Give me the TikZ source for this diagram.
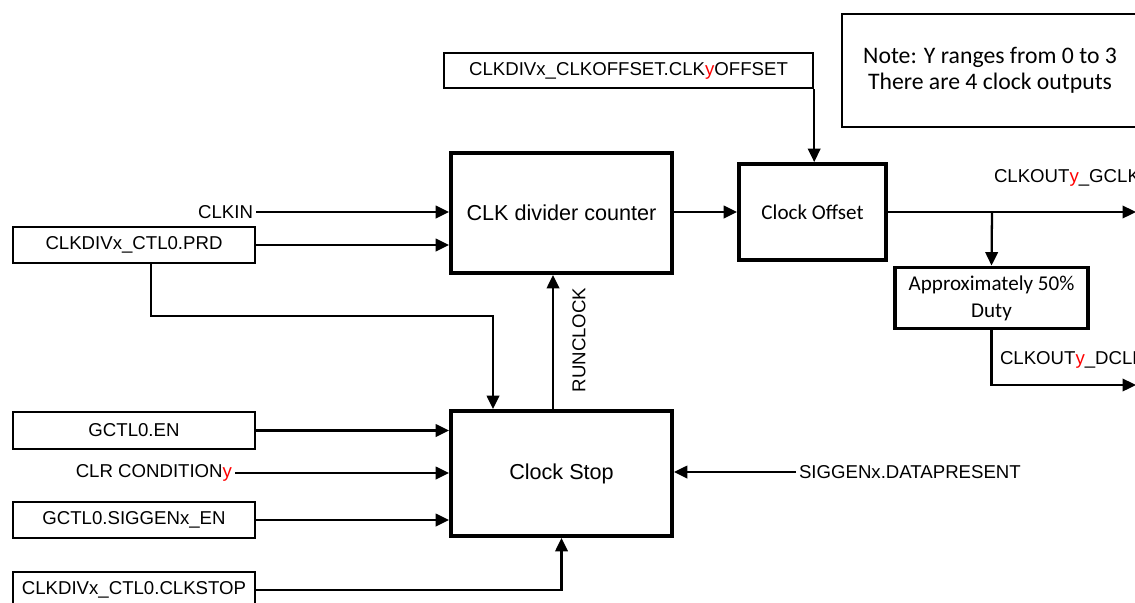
\documentclass[tikz,border=0pt]{standalone}
\usepackage{fontspec}
\setmainfont{Liberation Sans}
\newfontfamily\calfont{Carlito}
\usetikzlibrary{arrows.meta,positioning}

\tikzset{
  regbox/.style={draw,line width=1.4pt,minimum height=0.72cm,align=center,inner sep=1pt,font=\fontsize{10.6}{12}\selectfont},
  blkbox/.style={draw,line width=2.2pt,align=center,inner sep=2pt,font=\fontsize{12.3}{14}\selectfont},
  sig/.style={inner sep=1.5pt,font=\fontsize{10.6}{12}\selectfont},
  wire/.style={line width=1.3pt}
}
\newcommand{\ry}{\textcolor{red}{y}}

\begin{document}
\begin{tikzpicture}[x=0.02cm,y=-0.02cm,>={Triangle[length=0.27cm,width=0.25cm]}]
\useasboundingbox (0,0) rectangle (1135,602);
% main blocks
\node[blkbox,minimum width=4.42cm,minimum height=2.4cm] (div) at (561.5,213) {CLK divider counter};
\node[blkbox,minimum width=2.94cm,minimum height=1.92cm,font=\calfont\fontsize{12}{14}\selectfont] (off) at (812.5,212) {Clock Offset};
\node[blkbox,minimum width=3.86cm,minimum height=1.22cm,font=\calfont\fontsize{12}{15.5}\selectfont] (duty) at (991.5,298) {Approximately 50\%\\Duty};
\node[blkbox,minimum width=4.42cm,minimum height=2.5cm] (stp) at (561.5,473.5) {Clock Stop};
% registers and inputs
\node[regbox,minimum width=7.38cm,minimum height=0.7cm] (ofsreg) at (628.5,70.5) {CLKDIVx\_CLKOFFSET.CLK\ry OFFSET};
\node[regbox,minimum width=4.84cm] (prd) at (134,245) {CLKDIVx\_CTL0.PRD};
\node[regbox,minimum width=4.84cm,minimum height=0.74cm] (gen) at (134,430.5) {GCTL0.EN};
\node[regbox,minimum width=4.84cm] (sgen) at (134,520) {GCTL0.SIGGENx\_EN};
\node[regbox,minimum width=4.84cm] (stopreg) at (134,590) {CLKDIVx\_CTL0.CLKSTOP};
\node[sig,anchor=east] (clkin) at (256,212) {CLKIN};
\node[sig,anchor=east] (clr) at (235,473) {CLR CONDITION\ry};
\node[sig,anchor=west] (dp) at (796,472) {SIGGENx.DATAPRESENT};
\node[sig,rotate=90] (run) at (579,340) {RUNCLOCK};
\node[sig,anchor=west] (gclk) at (991,178) {CLKOUT\ry\_GCLK};
\node[sig,anchor=west] (dclk) at (997,360) {CLKOUT\ry\_DCLK};
% note
\node[draw,line width=1.4pt,minimum width=5.92cm,minimum height=2.26cm,align=center,font=\calfont\fontsize{13.5}{15}\selectfont] (note) at (990,70.5) {Note: Y ranges from 0 to 3\\There are 4 clock outputs};
\coordinate (bend) at (493,316);
\coordinate (tap) at (992,212);
\coordinate (gout) at (1136,212);
\coordinate (dout) at (1136,385);
% connectors
\draw[wire,->] (clkin.east) -- (clkin.east -| div.west);
\draw[wire,->] (prd.east) -- (prd.east -| div.west);
\draw[wire,->] ([xshift=0.34cm]prd.south) |- (bend) -- (bend |- stp.north);
\draw[wire,->] ([xshift=-0.17cm]stp.north) -- ([xshift=-0.17cm]div.south);
\draw[wire,->] (gen.east) -- (gen.east -| stp.west);
\draw[wire,->] (clr.east) -- (clr.east -| stp.west);
\draw[wire,->] (sgen.east) -- (sgen.east -| stp.west);
\draw[wire,->] (stopreg.east) -| (stp.south);
\draw[wire,->] (dp.west) -- (dp.west -| stp.east);
\draw[wire,->] (div.east |- off) -- (off.west);
\draw[wire,->] (ofsreg.south east) -- (ofsreg.south east |- off.north);
\draw[wire,->] (off.east) -- (gout);
\draw[wire,->] (tap) -- (duty.north);
\draw[wire,->] (duty.south) |- (dout);
\end{tikzpicture}
\end{document}
